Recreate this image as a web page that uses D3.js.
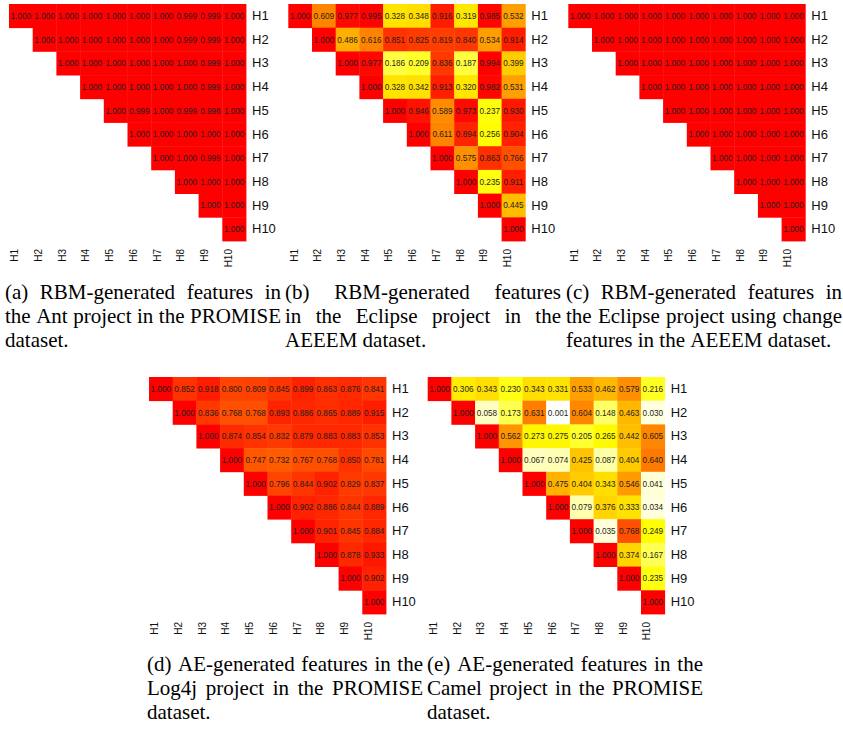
<!DOCTYPE html>
<html><head><meta charset="utf-8">
<script src="https://cdn.jsdelivr.net/npm/d3@7"></script>
<style>body{margin:0;background:#fff}svg{display:block}</style>
</head><body>
<svg id="chart" width="843" height="731"></svg>
<script>
// ---------------- DATA ----------------
const labels = ["H1","H2","H3","H4","H5","H6","H7","H8","H9","H10"];

// Upper-triangle rows: row i holds values for columns i..H10
const antRBM = [
  [1.000,1.000,1.000,1.000,1.000,1.000,1.000,0.999,0.999,1.000],
  [1.000,1.000,1.000,1.000,1.000,1.000,0.999,0.999,1.000],
  [1.000,1.000,1.000,1.000,1.000,1.000,0.999,1.000],
  [1.000,1.000,1.000,1.000,1.000,0.999,1.000],
  [1.000,0.999,1.000,0.999,0.998,1.000],
  [1.000,1.000,1.000,1.000,1.000],
  [1.000,1.000,0.999,1.000],
  [1.000,1.000,1.000],
  [1.000,1.000],
  [1.000]
];
const eclipseRBM = [
  [1.000,0.609,0.977,0.995,0.328,0.348,0.916,0.319,0.985,0.532],
  [1.000,0.486,0.616,0.851,0.825,0.819,0.840,0.534,0.914],
  [1.000,0.977,0.186,0.209,0.836,0.187,0.994,0.399],
  [1.000,0.328,0.342,0.913,0.320,0.982,0.531],
  [1.000,0.946,0.589,0.973,0.237,0.930],
  [1.000,0.611,0.894,0.256,0.904],
  [1.000,0.575,0.863,0.766],
  [1.000,0.235,0.911],
  [1.000,0.445],
  [1.000]
];
const eclipseChangeRBM = [
  [1.000,1.000,1.000,1.000,1.000,1.000,1.000,1.000,1.000,1.000],
  [1.000,1.000,1.000,1.000,1.000,1.000,1.000,1.000,1.000],
  [1.000,1.000,1.000,1.000,1.000,1.000,1.000,1.000],
  [1.000,1.000,1.000,1.000,1.000,1.000,1.000],
  [1.000,1.000,1.000,1.000,1.000,1.000],
  [1.000,1.000,1.000,1.000,1.000],
  [1.000,1.000,1.000,1.000],
  [1.000,1.000,1.000],
  [1.000,1.000],
  [1.000]
];
const log4jAE = [
  [1.000,0.852,0.918,0.800,0.809,0.845,0.899,0.863,0.876,0.841],
  [1.000,0.836,0.768,0.768,0.893,0.886,0.865,0.889,0.915],
  [1.000,0.874,0.854,0.832,0.879,0.883,0.883,0.853],
  [1.000,0.747,0.732,0.767,0.768,0.850,0.781],
  [1.000,0.796,0.844,0.902,0.829,0.837],
  [1.000,0.902,0.886,0.844,0.889],
  [1.000,0.901,0.845,0.884],
  [1.000,0.878,0.933],
  [1.000,0.902],
  [1.000]
];
const camelAE = [
  [1.000,0.306,0.343,0.230,0.343,0.331,0.533,0.462,0.579,0.216],
  [1.000,0.058,0.173,0.631,0.001,0.604,0.148,0.463,0.030],
  [1.000,0.562,0.273,0.275,0.205,0.265,0.442,0.605],
  [1.000,0.067,0.074,0.425,0.087,0.404,0.640],
  [1.000,0.475,0.404,0.343,0.546,0.041],
  [1.000,0.079,0.376,0.333,0.034],
  [1.000,0.035,0.768,0.249],
  [1.000,0.374,0.167],
  [1.000,0.235],
  [1.000]
];

const captionA = ["(a) RBM-generated features in","the Ant project in the PROMISE","dataset."];
const captionB = ["(b) RBM-generated features","in the Eclipse project in the","AEEEM dataset."];
const captionC = ["(c) RBM-generated features in","the Eclipse project using change","features in the AEEEM dataset."];
const captionD = ["(d) AE-generated features in the","Log4j project in the PROMISE","dataset."];
const captionE = ["(e) AE-generated features in the","Camel project in the PROMISE","dataset."];

// ---------------- LAYOUT ----------------
const gridSize = 237;
const panels = [
  {data: antRBM,           caption: captionA, x: 9,     y: 4,   cx: 5,   cy: 299},
  {data: eclipseRBM,       caption: captionB, x: 288.3, y: 4,   cx: 285, cy: 299},
  {data: eclipseChangeRBM, caption: captionC, x: 568.3, y: 4,   cx: 566, cy: 299},
  {data: log4jAE,          caption: captionD, x: 149,   y: 377, cx: 147, cy: 671},
  {data: camelAE,          caption: captionE, x: 427.7, y: 377, cx: 427, cy: 671}
];
const captionWidth = 276;
const captionLine = 24.2;
const captionFont = 21;

const color = d3.scaleLinear()
  .domain([0, 0.25, 1])
  .range(["#FFFFFF", "#FFFF00", "#FF0000"])
  .interpolate(d3.interpolateRgb)
  .clamp(true);

const svg = d3.select("#chart");
const sans = "'Liberation Sans', Arial, Helvetica, sans-serif";
const serif = "'Liberation Serif', 'Times New Roman', Times, serif";

panels.forEach(p => {
  const g = svg.append("g");
  const x = d3.scaleBand().domain(labels).range([p.x, p.x + gridSize]).padding(0);
  const y = d3.scaleBand().domain(labels).range([p.y, p.y + gridSize]).padding(0);

  const cells = [];
  p.data.forEach((row, i) => {
    row.forEach((v, k) => {
      cells.push({r: labels[i], c: labels[i + k], v});
    });
  });

  g.selectAll("rect.cell").data(cells).join("rect")
    .attr("class", "cell")
    .attr("x", d => x(d.c))
    .attr("y", d => y(d.r))
    .attr("width", x.bandwidth() + 0.4)
    .attr("height", y.bandwidth() + 0.4)
    .attr("fill", d => color(d.v));

  g.selectAll("text.val").data(cells).join("text")
    .attr("class", "val")
    .attr("x", d => x(d.c) + x.bandwidth() / 2)
    .attr("y", d => y(d.r) + y.bandwidth() / 2)
    .attr("dy", "0.36em")
    .attr("text-anchor", "middle")
    .attr("font-family", sans)
    .attr("font-size", 8.2)
    .attr("fill", "#1e1e1e")
    .text(d => d.v.toFixed(3));

  // Row labels (right)
  const ay = g.append("g")
    .attr("transform", `translate(${p.x + gridSize},0)`)
    .call(d3.axisRight(y).tickSize(0).tickPadding(6));
  ay.select(".domain").remove();
  ay.selectAll("text").attr("font-family", sans).attr("font-size", 13).attr("fill", "#111");

  // Column labels (bottom, rotated)
  const ax = g.append("g")
    .attr("transform", `translate(-6,${p.y + gridSize})`)
    .call(d3.axisBottom(x).tickSize(0));
  ax.select(".domain").remove();
  ax.selectAll("text")
    .attr("transform", "rotate(-90)")
    .attr("x", -8).attr("y", 0).attr("dy", "0.35em")
    .attr("text-anchor", "end")
    .attr("font-family", sans).attr("font-size", 10).attr("fill", "#111");

  // Caption (justified)
  const cg = svg.append("g").attr("font-family", serif).attr("font-size", captionFont).attr("fill", "#000");
  p.caption.forEach((line, li) => {
    const words = line.split(" ");
    const yy = p.cy + li * captionLine;
    const nodes = words.map(w => cg.append("text").attr("y", yy).text(w));
    const widths = nodes.map(n => n.node().getComputedTextLength());
    const last = li === p.caption.length - 1;
    const gap = (!last && words.length > 1)
      ? (captionWidth - d3.sum(widths)) / (words.length - 1)
      : captionFont * 0.25;
    let cx = p.cx;
    nodes.forEach((n, i) => { n.attr("x", cx); cx += widths[i] + gap; });
  });
});
</script>
</body></html>
